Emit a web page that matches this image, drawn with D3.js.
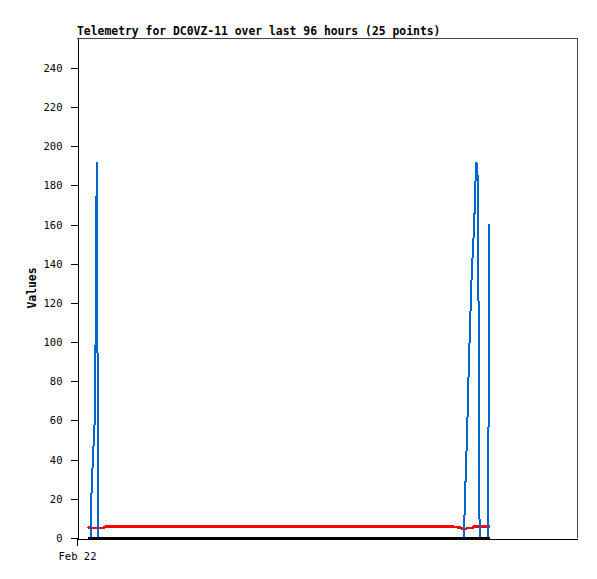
<!DOCTYPE html>
<html>
<head>
<meta charset="utf-8">
<script src="https://cdn.jsdelivr.net/npm/d3@7"></script>
<style>
  body { margin: 0; background: #fff; }
  svg { display: block; }
  text { font-family: "DejaVu Sans Mono", "Liberation Mono", monospace; }
</style>
</head>
<body>
<svg width="597" height="579"></svg>
<script>
// telemetry samples (time, channel values)
var times = [
  "2024-02-22 02:07", "2024-02-22 02:18", "2024-02-22 02:36", "2024-02-22 02:44",
  "2024-02-22 02:55", "2024-02-22 03:08", "2024-02-22 03:22", "2024-02-22 03:33",
  "2024-02-22 03:39", "2024-02-22 03:47", "2024-02-22 03:56", "2024-02-22 04:04",
  "2024-02-22 04:59", "2024-02-22 05:34",
  "2024-02-25 00:11", "2024-02-25 01:32", "2024-02-25 02:12", "2024-02-25 02:22",
  "2024-02-25 02:30", "2024-02-25 02:41", "2024-02-25 02:53", "2024-02-25 03:02",
  "2024-02-25 03:10", "2024-02-25 03:19", "2024-02-25 03:30", "2024-02-25 03:39",
  "2024-02-25 03:53", "2024-02-25 04:11", "2024-02-25 04:23", "2024-02-25 04:32",
  "2024-02-25 04:41", "2024-02-25 04:50", "2024-02-25 04:59", "2024-02-25 05:09",
  "2024-02-25 05:18", "2024-02-25 06:55", "2024-02-25 07:03", "2024-02-25 07:11",
  "2024-02-25 07:21"
]
var blueValues = [
  0, 0, 0, 19, 32, 45, 58, 97, 128, 192, 97, 0, 0, 0,
  0, 0, 0, 8, 21, 36, 52, 67, 82, 96, 110, 126, 140, 156, 170, 184,
  192, 189, 180, 88, 0, 0, 80, 160, 160
]
var redValues = [
  6.0, 5.1, 5.1, 5.1, 5.1, 5.1, 5.1, 5.1, 5.1, 5.1, 5.1, 5.1, 5.1, 5.8,
  5.8, 5.3, 4.6, 4.6, 4.6, 4.6, 5.1, 5.1, 5.1, 5.1, 5.1, 5.1, 5.1, 5.8, 5.8, 5.8,
  5.8, 5.8, 5.8, 5.8, 5.8, 5.8, 5.8, 5.8, 5.8
]
var blackValues = [
  0, 0, 0, 0, 0, 0, 0, 0, 0, 0, 0, 0, 0, 0,
  0, 0, 0, 0, 0, 0, 0, 0, 0, 0, 0, 0, 0, 0, 0, 0,
  0, 0, 0, 0, 0, 0, 0, 0, 0
]
var yTicks = [0, 20, 40, 60, 80, 100, 120, 140, 160, 180, 200, 220, 240]
var startTime = "2024-02-22 00:00", endTime = "2024-02-26 00:00"

var svg = d3.select("svg")
var plotLeft = 77, plotTop = 38, plotRight = 577, plotBottom = 538

var parse = d3.timeParse("%Y-%m-%d %H:%M")
var data = times.map(function(t, i){
  return { t: parse(t), blue: blueValues[i], red: redValues[i], black: blackValues[i] }
})

var x = d3.scaleTime()
  .domain([parse(startTime), parse(endTime)])
  .range([plotLeft, plotRight])
var y = d3.scaleLinear()
  .domain([0, 255.3])
  .range([plotBottom, plotTop])

// frame (top + right)
svg.append("path")
  .attr("d", "M" + plotLeft + "," + (plotTop + 0.5) + "H" + (plotRight + 0.5) + "V" + plotBottom)
  .attr("fill", "none")
  .attr("stroke", "#444")
  .attr("shape-rendering", "crispEdges")

// y axis
var yAxis = svg.append("g")
  .attr("transform", "translate(" + (plotLeft + 0.5) + ",0)")
  .call(d3.axisLeft(y).tickValues(yTicks).tickSize(7).tickSizeOuter(0).tickPadding(8))
yAxis.selectAll("path, line").attr("stroke", "#000").attr("shape-rendering", "crispEdges")
yAxis.selectAll("text")
  .style("font-size", "10.5px")
  .style("font-family", "'DejaVu Sans Mono', monospace")
  .attr("fill", "#000")

// x axis
var xAxis = svg.append("g")
  .attr("transform", "translate(0," + (plotBottom + 0.5) + ")")
  .call(d3.axisBottom(x).tickValues([parse(startTime)]).tickFormat(d3.timeFormat("%b %d"))
    .tickSize(7).tickSizeOuter(0).tickPadding(7))
xAxis.selectAll("path, line").attr("stroke", "#000").attr("shape-rendering", "crispEdges")
xAxis.selectAll("text")
  .style("font-size", "10.5px")
  .style("font-family", "'DejaVu Sans Mono', monospace")
  .attr("fill", "#000")

// series
var series = [
  { key: "red", color: "#ff0000", width: 2.5 },
  { key: "blue", color: "#0066cc", width: 2 },
  { key: "black", color: "#000000", width: 2.5 }
]
series.forEach(function(s){
  svg.append("path")
    .datum(data)
    .attr("fill", "none")
    .attr("stroke", s.color)
    .attr("stroke-width", s.width)
    .attr("shape-rendering", "crispEdges")
    .attr("d", d3.line()
      .x(function(d){ return x(d.t) })
      .y(function(d){ return y(d[s.key]) })
    )
})

// title
svg.append("text")
  .attr("x", plotLeft)
  .attr("y", 35)
  .style("font-size", "11.4px")
  .style("font-weight", "bold")
  .text("Telemetry for DC0VZ-11 over last 96 hours (25 points)")

// y label
svg.append("text")
  .attr("transform", "translate(36," + ((plotTop + plotBottom) / 2) + ") rotate(-90)")
  .attr("text-anchor", "middle")
  .style("font-size", "11.4px")
  .style("font-weight", "bold")
  .text("Values")
</script>
</body>
</html>
